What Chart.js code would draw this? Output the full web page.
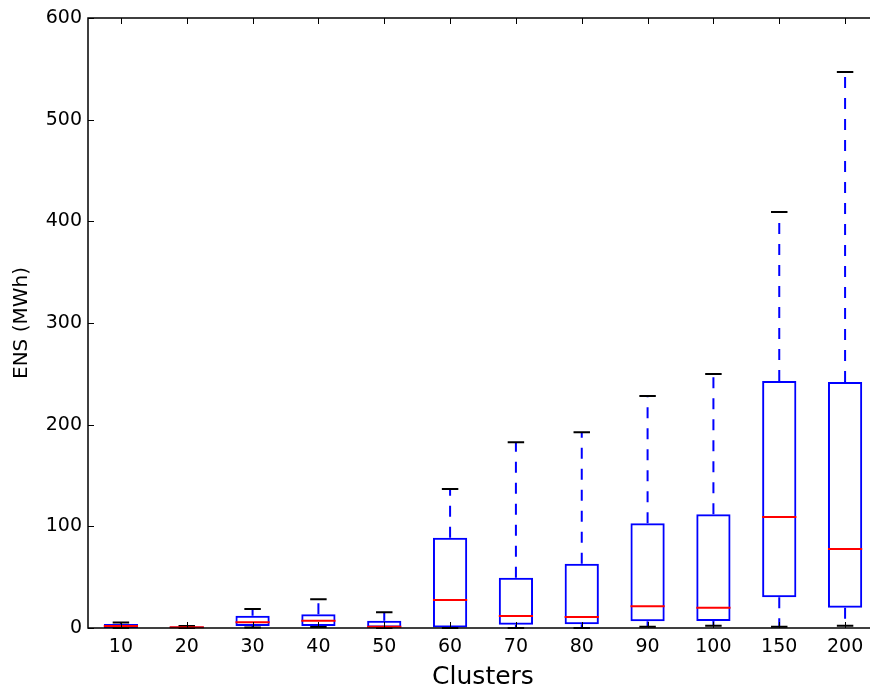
<!DOCTYPE html>
<html lang="en">
<head>
    <meta charset="UTF-8">
    <title>ENS by clusters</title>
    <script src="https://cdn.jsdelivr.net/npm/chart.js"></script>
    <style>
        html, body {
            margin: 0;
            padding: 0;
            background: #ffffff;
            overflow: hidden;
        }
        .chart-box {
            width: 880px;
            height: 688px;
        }
    </style>
</head>
<body>
    <div class="chart-box">
        <canvas id="boxChart" width="880" height="688"></canvas>
    </div>

    <script>
        // values (MWh)
        const categories = ['10', '20', '30', '40', '50', '60', '70', '80', '90', '100', '150', '200'];
        const whiskerLow = [0, 0, 0.5, 1, 0, 0, 0, 0, 1.3, 2.3, 1.3, 2.3];
        const q1 = [0, 0, 2, 2, 0.5, 0.5, 3.3, 3.6, 6.6, 6.9, 30.2, 20];
        const median = [2, 0.8, 5.6, 7.2, 1.3, 27.5, 11.8, 10.8, 21.3, 20, 109.2, 77.7];
        const q3 = [4, 1.5, 12, 13.5, 7.2, 88.8, 49.5, 63.3, 103, 111.8, 243, 242];
        const whiskerHigh = [5.5, 2, 18.7, 28.2, 15.4, 136.7, 182.6, 192.5, 228.2, 249.8, 409.2, 546.9];
        const yTicks = [0, 100, 200, 300, 400, 500, 600];

        const FONT = "'DejaVu Sans', sans-serif";

        // whiskers, caps, medians, spines and inward ticks (matplotlib look)
        const boxExtras = {
            id: 'boxExtras',
            afterDatasetsDraw(chart) {
                const ctx = chart.ctx;
                const x = chart.scales.x;
                const y = chart.scales.y;
                const capHalf = x.width / categories.length * 0.125;
                ctx.save();
                categories.forEach((c, i) => {
                    const cx = x.getPixelForValue(i);
                    // whiskers
                    ctx.strokeStyle = '#0000ff';
                    ctx.lineWidth = 2;
                    ctx.setLineDash([11, 10]);
                    ctx.beginPath();
                    ctx.moveTo(cx, y.getPixelForValue(q3[i]));
                    ctx.lineTo(cx, y.getPixelForValue(whiskerHigh[i]));
                    ctx.moveTo(cx, y.getPixelForValue(q1[i]));
                    ctx.lineTo(cx, y.getPixelForValue(whiskerLow[i]));
                    ctx.stroke();
                    ctx.setLineDash([]);
                    // caps
                    ctx.strokeStyle = '#000000';
                    ctx.beginPath();
                    [whiskerHigh[i], whiskerLow[i]].forEach(v => {
                        const py = y.getPixelForValue(v);
                        ctx.moveTo(cx - capHalf, py);
                        ctx.lineTo(cx + capHalf, py);
                    });
                    ctx.stroke();
                    // median
                    const bar = chart.getDatasetMeta(0).data[i];
                    const half = bar.width / 2;
                    ctx.strokeStyle = '#ff0000';
                    ctx.beginPath();
                    const my = y.getPixelForValue(median[i]);
                    ctx.moveTo(cx - half, my);
                    ctx.lineTo(cx + half, my);
                    ctx.stroke();
                });
                ctx.restore();
            },
            afterDraw(chart) {
                const ctx = chart.ctx;
                const a = chart.chartArea;
                const x = chart.scales.x;
                const y = chart.scales.y;
                const tl = 6;
                ctx.save();
                ctx.strokeStyle = '#000000';
                ctx.lineWidth = 1;
                ctx.beginPath();
                yTicks.forEach(v => {
                    const py = Math.round(y.getPixelForValue(v)) + 0.5;
                    ctx.moveTo(a.left, py);
                    ctx.lineTo(a.left + tl, py);
                    ctx.moveTo(a.right, py);
                    ctx.lineTo(a.right - tl, py);
                });
                categories.forEach((c, i) => {
                    const px = Math.round(x.getPixelForValue(i)) + 0.5;
                    ctx.moveTo(px, a.bottom);
                    ctx.lineTo(px, a.bottom - tl);
                    ctx.moveTo(px, a.top);
                    ctx.lineTo(px, a.top + tl);
                });
                ctx.stroke();
                ctx.lineWidth = 1.5;
                ctx.strokeRect(a.left, a.top, a.right - a.left, a.bottom - a.top);
                ctx.restore();
            }
        };

        new Chart(document.getElementById('boxChart'), {
            type: 'bar',
            data: {
                labels: categories,
                datasets: [{
                    data: categories.map((c, i) => [q1[i], q3[i]]),
                    backgroundColor: 'rgba(0,0,0,0)',
                    borderColor: '#0000ff',
                    borderWidth: 2,
                    borderSkipped: false,
                    inflateAmount: 0,
                    barPercentage: 0.52,
                    categoryPercentage: 1
                }]
            },
            options: {
                responsive: false,
                animation: false,
                layout: {
                    padding: { top: 18, right: 2, bottom: 0, left: 0 }
                },
                plugins: {
                    legend: { display: false },
                    tooltip: { enabled: false }
                },
                scales: {
                    x: {
                        type: 'category',
                        grid: { display: false, drawTicks: false },
                        border: { display: false },
                        ticks: {
                            color: '#000000',
                            padding: 8,
                            maxRotation: 0,
                            font: { family: FONT, size: 19 }
                        },
                        title: {
                            display: true,
                            text: 'Clusters',
                            color: '#000000',
                            padding: { top: 0, bottom: -2 },
                            font: { family: FONT, size: 25, lineHeight: 1 }
                        },
                        afterFit(scale) { scale.height = 60; }
                    },
                    y: {
                        min: 0,
                        max: 600,
                        grid: { display: false, drawTicks: false },
                        border: { display: false },
                        ticks: {
                            stepSize: 100,
                            color: '#000000',
                            padding: 6,
                            font: { family: FONT, size: 19 }
                        },
                        title: {
                            display: true,
                            text: 'ENS (MWh)',
                            color: '#000000',
                            padding: { top: 12, bottom: 0 },
                            font: { family: FONT, size: 20, lineHeight: 1 }
                        },
                        afterFit(scale) { scale.width = 88; }
                    }
                }
            },
            plugins: [boxExtras]
        });
    </script>
</body>
</html>
